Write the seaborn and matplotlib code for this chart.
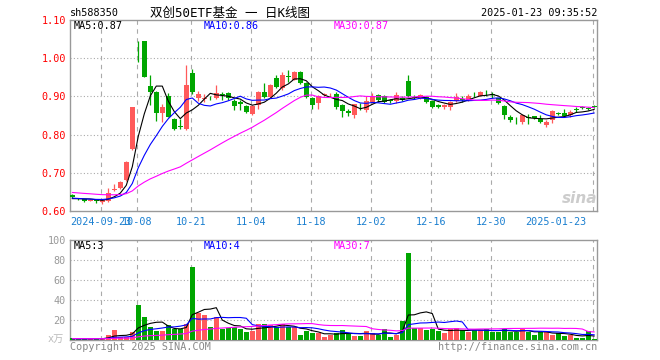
import numpy as np
import pandas as pd
import matplotlib
matplotlib.use("Agg")
import matplotlib.pyplot as plt
import matplotlib.transforms as mtrans
import seaborn as sns

# trading days on the chart
holidays = ["2024-09-16", "2024-09-17", "2024-10-01", "2024-10-02", "2024-10-03",
            "2024-10-04", "2024-10-07", "2025-01-01"]
dates = pd.bdate_range("2024-09-12", "2025-01-23")
dates = dates[~dates.isin(pd.to_datetime(holidays))]

open_ = [0.643, 0.632, 0.631, 0.627, 0.629, 0.624, 0.626, 0.655, 0.659, 0.680,
         0.762, 1.045, 1.045, 0.928, 0.912, 0.856, 0.901, 0.841, 0.823, 0.815,
         0.960, 0.897, 0.893, 0.897, 0.895, 0.906, 0.908, 0.889, 0.886, 0.874,
         0.854, 0.877, 0.912, 0.899, 0.947, 0.921, 0.954, 0.944, 0.964, 0.934,
         0.897, 0.882, 0.904, 0.905, 0.906, 0.877, 0.862, 0.851, 0.873, 0.864,
         0.886, 0.904, 0.901, 0.890, 0.889, 0.896, 0.940, 0.899, 0.895, 0.899,
         0.889, 0.877, 0.871, 0.873, 0.889, 0.893, 0.891, 0.907, 0.902, 0.907,
         0.905, 0.895, 0.875, 0.847, 0.839, 0.832, 0.846, 0.848, 0.842, 0.825,
         0.838, 0.857, 0.857, 0.851, 0.867, 0.871, 0.869, 0.873]
high = [0.645, 0.633, 0.632, 0.631, 0.630, 0.630, 0.659, 0.670, 0.678, 0.730,
        0.873, 1.046, 1.046, 0.956, 0.915, 0.880, 0.908, 0.843, 0.840, 0.982,
        0.972, 0.913, 0.905, 0.902, 0.931, 0.912, 0.912, 0.892, 0.890, 0.877,
        0.877, 0.914, 0.934, 0.933, 0.956, 0.964, 0.969, 0.966, 0.966, 0.937,
        0.899, 0.904, 0.910, 0.908, 0.912, 0.879, 0.868, 0.881, 0.882, 0.901,
        0.908, 0.906, 0.903, 0.893, 0.912, 0.900, 0.956, 0.904, 0.907, 0.902,
        0.891, 0.880, 0.880, 0.889, 0.908, 0.900, 0.905, 0.912, 0.913, 0.918,
        0.912, 0.897, 0.877, 0.851, 0.845, 0.853, 0.855, 0.850, 0.851, 0.838,
        0.864, 0.860, 0.866, 0.864, 0.873, 0.874, 0.872, 0.878]
low = [0.633, 0.630, 0.624, 0.625, 0.620, 0.619, 0.623, 0.652, 0.657, 0.678,
       0.760, 0.989, 0.950, 0.878, 0.836, 0.833, 0.845, 0.811, 0.815, 0.812,
       0.905, 0.889, 0.885, 0.890, 0.893, 0.891, 0.891, 0.864, 0.864, 0.856,
       0.852, 0.866, 0.897, 0.897, 0.922, 0.918, 0.938, 0.942, 0.932, 0.895,
       0.868, 0.868, 0.900, 0.898, 0.868, 0.847, 0.850, 0.844, 0.864, 0.860,
       0.882, 0.886, 0.882, 0.882, 0.882, 0.888, 0.899, 0.893, 0.893, 0.884,
       0.869, 0.869, 0.866, 0.864, 0.886, 0.886, 0.889, 0.898, 0.900, 0.900,
       0.897, 0.880, 0.840, 0.832, 0.829, 0.827, 0.827, 0.840, 0.831, 0.821,
       0.830, 0.852, 0.847, 0.847, 0.860, 0.866, 0.864, 0.869]
close = [0.636, 0.631, 0.627, 0.629, 0.625, 0.628, 0.646, 0.658, 0.677, 0.727,
         0.871, 1.044, 0.952, 0.912, 0.856, 0.871, 0.847, 0.815, 0.820, 0.930,
         0.912, 0.906, 0.897, 0.895, 0.910, 0.904, 0.896, 0.876, 0.879, 0.859,
         0.875, 0.912, 0.899, 0.931, 0.925, 0.956, 0.952, 0.964, 0.934, 0.899,
         0.877, 0.901, 0.906, 0.906, 0.871, 0.862, 0.856, 0.879, 0.871, 0.889,
         0.901, 0.891, 0.886, 0.888, 0.904, 0.891, 0.901, 0.897, 0.904, 0.886,
         0.873, 0.873, 0.877, 0.886, 0.898, 0.891, 0.902, 0.905, 0.911, 0.905,
         0.903, 0.882, 0.851, 0.838, 0.837, 0.851, 0.844, 0.843, 0.834, 0.834,
         0.862, 0.855, 0.850, 0.858, 0.865, 0.869, 0.867, 0.872]
# volume, 万手
volume = [1.7, 1.0, 1.0, 1.0, 2.3, 1.2, 5.0, 10.3, 3.5, 3.5,
          8.0, 35.0, 23.3, 13.3, 9.0, 9.0, 15.0, 11.3, 11.3, 15.7,
          73.3, 27.3, 25.0, 13.3, 22.7, 11.3, 11.7, 13.3, 11.3, 8.3,
          9.3, 16.0, 16.0, 15.0, 12.7, 15.7, 12.7, 12.7, 5.0, 9.3,
          6.7, 6.7, 3.3, 5.0, 7.3, 10.0, 6.7, 4.0, 4.0, 9.0,
          6.7, 5.0, 11.0, 3.0, 5.0, 19.3, 86.7, 12.0, 12.5, 10.0,
          11.0, 9.0, 6.7, 10.7, 12.0, 10.0, 8.0, 10.0, 10.0, 10.7,
          8.3, 8.3, 10.7, 8.3, 8.3, 11.0, 8.3, 5.0, 8.3, 8.3,
          5.0, 6.7, 4.0, 5.0, 2.3, 2.3, 9.0, 1.3]
# sessions before the window, only used to start the moving averages
prior_close = [0.668, 0.664, 0.660, 0.662, 0.658, 0.655, 0.659, 0.661, 0.657, 0.653,
               0.656, 0.652, 0.655, 0.650, 0.654, 0.657, 0.653, 0.651, 0.648, 0.646,
               0.640, 0.637, 0.635, 0.633, 0.630, 0.632, 0.629, 0.631, 0.634]
prior_volume = [1.6, 1.4, 1.8, 1.3, 1.5, 1.2, 1.7, 1.4, 1.3, 1.6,
                1.5, 1.2, 1.4, 1.1, 1.3, 1.5, 1.2, 1.4, 1.3, 1.1,
                1.2, 1.4, 1.0, 1.3, 1.2, 1.5, 1.1, 1.3, 1.2]

tick_dates = ["2024-09-23", "2024-10-08", "2024-10-21", "2024-11-04", "2024-11-18",
              "2024-12-02", "2024-12-16", "2024-12-30", "2025-01-23"]
tick_labels = ["2024-09-23", "10-08", "10-21", "11-04", "11-18",
               "12-02", "12-16", "12-30", "2025-01-23"]
ma_windows = [5, 10, 30]
ma_colors = ["#000000", "#0000ff", "#ff00ff"]

RED, GREEN = "#ff5a5a", "#00a600"
o, h, l, c = map(np.array, (open_, high, low, close))
x = np.arange(len(c))
up = c >= o
colors = np.where(up, RED, GREEN)

cs = pd.Series(prior_close + close)
vs = pd.Series(prior_volume + volume)
n0 = len(prior_close)

sns.set_theme(style="white")
plt.rcParams["font.family"] = ["DejaVu Sans Mono", "Noto Sans CJK SC"]

W, H = 660, 360
fig = plt.figure(figsize=(6.6, 3.6), dpi=100)
ax = fig.add_axes([70 / W, 1 - 211 / H, 527 / W, 191 / H])
axv = fig.add_axes([70 / W, 1 - 340 / H, 527 / W, 100 / H])
xlim = (-0.38, len(c) - 0.55)

# candles
ax.vlines(x, l, h, colors=colors, lw=0.9, zorder=3)
ax.bar(x, np.maximum(np.abs(c - o), 0.0016), bottom=np.minimum(o, c),
       width=0.8, color=colors, linewidth=0, zorder=3)
for w, col in zip(ma_windows, ma_colors):
    ma = cs.rolling(w, min_periods=1).mean().to_numpy()[n0:]
    sns.lineplot(x=x, y=ma, ax=ax, color=col, lw=0.8, legend=False, zorder=4)
ax.set_xlim(*xlim)
ax.set_ylim(0.60, 1.10)

# volume
axv.bar(x, volume, width=0.8, color=colors, linewidth=0, zorder=3)
for w, col in zip(ma_windows, ma_colors):
    ma = vs.rolling(w, min_periods=1).mean().to_numpy()[n0:]
    sns.lineplot(x=x, y=ma, ax=axv, color=col, lw=0.8, legend=False, zorder=4)
axv.set_xlim(*xlim)
axv.set_ylim(0, 100)

tick_pos = [dates.get_loc(pd.Timestamp(d)) - 0.25 for d in tick_dates]

for a in (ax, axv):
    for s in a.spines.values():
        s.set_color("#999999")
        s.set_linewidth(1)
    for p in tick_pos:
        a.axvline(p, color="#aaaaaa", lw=0.8, ls=(0, (4, 4)), zorder=1)
    a.tick_params(axis="both", length=0)

for yv in [0.7, 0.8, 0.9, 1.0]:
    ax.axhline(yv, color="#aaaaaa", lw=0.8, ls=(0, (1, 2)), zorder=1)
for yv in [20, 40, 60, 80]:
    axv.axhline(yv, color="#aaaaaa", lw=0.8, ls=(0, (1, 2)), zorder=1)

ax.set_yticks([0.6, 0.7, 0.8, 0.9, 1.0, 1.1])
ax.set_yticklabels([f"{v:.2f}" for v in [0.6, 0.7, 0.8, 0.9, 1.0, 1.1]],
                   color="#ff0000", fontsize=7.3)
ax.tick_params(axis="y", pad=3)
ax.set_xticks(tick_pos)
ax.set_xticklabels(tick_labels, color="#1a7fd0", fontsize=7.3)
ax.tick_params(axis="x", pad=4)
last = ax.get_xticklabels()[-1]
last.set_horizontalalignment("right")
last.set_transform(last.get_transform() + mtrans.ScaledTranslation(-6 / 100, 0, fig.dpi_scale_trans))

axv.set_yticks([20, 40, 60, 80, 100])
axv.set_yticklabels(["20", "40", "60", "80", "100"], color="#999999", fontsize=7.3)
axv.tick_params(axis="y", pad=3)
axv.set_xticks([])

def ftext(px, py, s, **kw):
    kw.setdefault("fontsize", 7.3)
    kw.setdefault("va", "center")
    fig.text(px / W, 1 - py / H, s, **kw)

ftext(70, 13, "sh588350", color="black")
ftext(230, 13, "双创50ETF基金 一 日K线图", color="black", ha="center", fontsize=9)
ftext(597, 13, "2025-01-23 09:35:52", color="black", ha="right")
ftext(74, 26, "MA5:0.87", color=ma_colors[0])
ftext(204, 26, "MA10:0.86", color=ma_colors[1])
ftext(334, 26, "MA30:0.87", color=ma_colors[2])
ftext(74, 246, "MA5:3", color=ma_colors[0])
ftext(204, 246, "MA10:4", color=ma_colors[1])
ftext(334, 246, "MA30:7", color=ma_colors[2])
ftext(48, 339, "x万", color="#bbbbbb")
ftext(70, 347, "Copyright 2025 SINA.COM", color="#888888")
ftext(597, 347, "http://finance.sina.com.cn", color="#888888", ha="right")
ftext(580, 198, "sina", color="#cccccc", ha="center", fontsize=11,
      fontstyle="italic", fontweight="bold", family="DejaVu Sans")

fig.savefig("out.png", dpi=100)
